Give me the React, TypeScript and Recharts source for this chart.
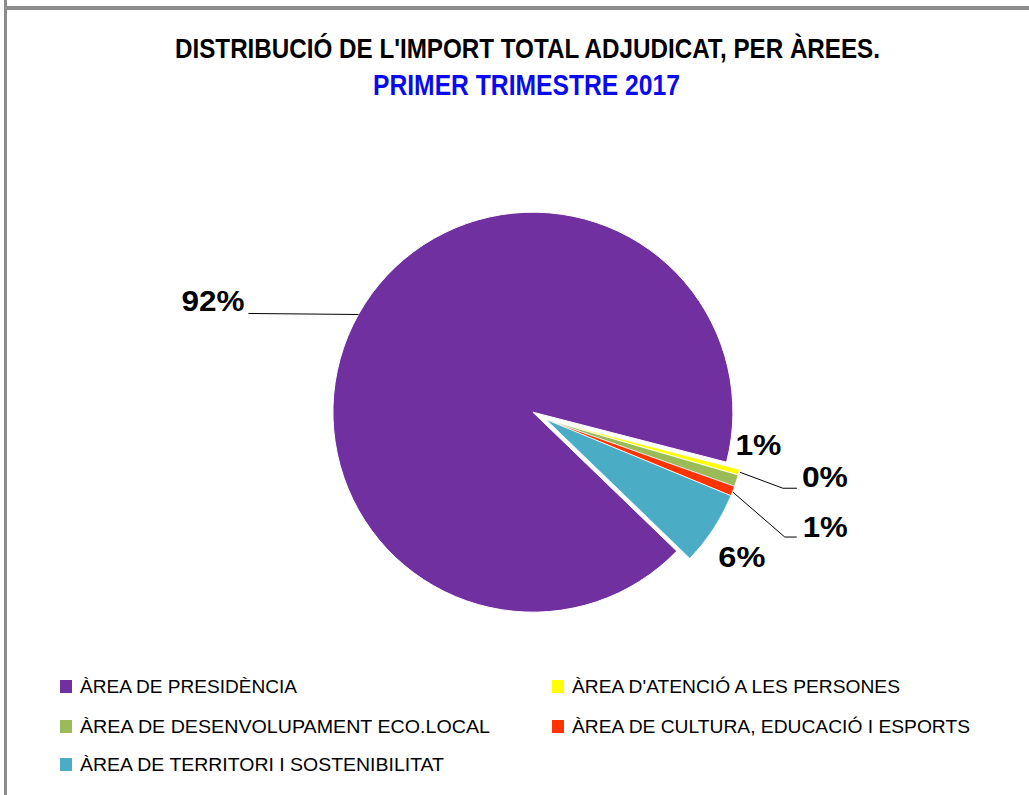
import React from 'react';
import { PieChart, Pie, Cell } from 'recharts';

const categories = [
  'ÀREA DE PRESIDÈNCIA',
  "ÀREA D'ATENCIÓ A LES PERSONES",
  'ÀREA DE DESENVOLUPAMENT ECO.LOCAL',
  'ÀREA DE CULTURA, EDUCACIÓ I ESPORTS',
  'ÀREA DE TERRITORI I SOSTENIBILITAT',
];
const values = [91.8, 0.45, 0.95, 0.8, 6.0];
const percentLabels = ['92%', '0%', '1%', '1%', '6%'];
const colors = ['#7030A0', '#FFFF00', '#9BBB59', '#FF3300', '#4BACC6'];

const title = "DISTRIBUCIÓ DE L'IMPORT TOTAL ADJUDICAT, PER ÀREES.";
const subtitle = 'PRIMER TRIMESTRE 2017';

const data = categories.map((name, i) => ({ name, value: values[i] }));

const W = 1029;
const H = 795;
const MARGIN = { top: 0, right: 0, bottom: 0, left: 0 };
const CX = 546;
const CY = 419.5;
const R = 200;
const START = -44;
const END = -404;
const EXPLODE_INDEX = 0;
const EXPLODE = 15;

// label layout (style offsets relative to each slice's outer edge point)
const labelLayout: Array<{ leader?: number[][]; text: number[]; anchor: 'start' | 'end'; width: number }> = [
  { leader: [[0, 0], [-110, -1]], text: [-114, -3], anchor: 'end', width: 63 },
  { leader: [[1, 0], [44, 16], [58, 16]], text: [63, 15], anchor: 'start', width: 46 },
  { text: [-1, -26], anchor: 'start', width: 46 },
  { leader: [[0, 1], [52, 46], [64, 46]], text: [70, 46], anchor: 'start', width: 45 },
  { text: [5, 38], anchor: 'start', width: 47 },
];

const total = values.reduce((a, b) => a + b, 0);
const cumBefore = values.slice(0, EXPLODE_INDEX).reduce((a, b) => a + b, 0);
const explodeMid = START - ((cumBefore + values[EXPLODE_INDEX] / 2) / total) * (START - END);
const RAD = Math.PI / 180;
const exDx = EXPLODE * Math.cos(explodeMid * RAD);
const exDy = -EXPLODE * Math.sin(explodeMid * RAD);

const FONT = "'Liberation Sans', Arial, sans-serif";

const makeLabel = (showExploded: boolean) => (props: any) => {
  const { cx, cy, midAngle, outerRadius, index } = props;
  if ((index === EXPLODE_INDEX) !== showExploded) return <g key={`lbl-${index}`} />;
  const ex = cx + outerRadius * Math.cos(-midAngle * RAD);
  const ey = cy + outerRadius * Math.sin(-midAngle * RAD);
  const lay = labelLayout[index];
  const pts = lay.leader ? lay.leader.map(([dx, dy]) => `${ex + dx},${ey + dy}`).join(' ') : null;
  return (
    <g key={`lbl-${index}`}>
      {pts && <polyline points={pts} fill="none" stroke="#000" strokeWidth={1} />}
      <text
        x={ex + lay.text[0]}
        y={ey + lay.text[1]}
        textAnchor={lay.anchor}
        fontFamily={FONT}
        fontWeight="bold"
        fontSize={30}
        fill="#000"
        textLength={lay.width}
        lengthAdjust="spacingAndGlyphs"
      >
        {percentLabels[index]}
      </text>
    </g>
  );
};

const legendPos = [
  { x: 60, y: 680, w: 217 },
  { x: 552, y: 680, w: 328 },
  { x: 60, y: 720, w: 410 },
  { x: 552, y: 720, w: 398 },
  { x: 60, y: 758, w: 364 },
];

export default function App() {
  return (
    <div style={{ position: 'absolute', left: 0, top: 0, width: W, height: H, background: '#fff' }}>
      <PieChart width={W} height={H} margin={MARGIN} style={{ position: 'absolute', left: 0, top: 0 }}>
        <Pie
          data={data}
          dataKey="value"
          nameKey="name"
          cx={CX}
          cy={CY}
          outerRadius={R}
          startAngle={START}
          endAngle={END}
          stroke="#fff"
          strokeWidth={0.75}
          label={makeLabel(false)}
          labelLine={false}
          isAnimationActive={false}
        >
          {data.map((d, i) => (
            <Cell
              key={`c-${i}`}
              fill={i === EXPLODE_INDEX ? 'transparent' : colors[i]}
              stroke={i === EXPLODE_INDEX ? 'none' : '#fff'}
            />
          ))}
        </Pie>
        <Pie
          data={data}
          dataKey="value"
          nameKey="name"
          cx={CX + exDx}
          cy={CY + exDy}
          outerRadius={R}
          startAngle={START}
          endAngle={END}
          label={makeLabel(true)}
          labelLine={false}
          isAnimationActive={false}
        >
          {data.map((d, i) => (
            <Cell
              key={`e-${i}`}
              fill={i === EXPLODE_INDEX ? colors[i] : 'transparent'}
              stroke={i === EXPLODE_INDEX ? '#fff' : 'none'}
            />
          ))}
        </Pie>
      </PieChart>
      <svg
        width={W}
        height={H}
        style={{ position: 'absolute', left: 0, top: 0, pointerEvents: 'none' }}
      >
        <rect x={4} y={6} width={W - 4} height={4} fill="#8c8c8c" />
        <rect x={4} y={0} width={3} height={H} fill="#8c8c8c" />
        <text
          x={175}
          y={58}
          fontFamily={FONT}
          fontWeight="bold"
          fontSize={28}
          fill="#000"
          textLength={705}
          lengthAdjust="spacingAndGlyphs"
        >
          {title}
        </text>
        <text
          x={373}
          y={95}
          fontFamily={FONT}
          fontWeight="bold"
          fontSize={29}
          fill="#0A0AF0"
          textLength={307}
          lengthAdjust="spacingAndGlyphs"
        >
          {subtitle}
        </text>
        {categories.map((c, i) => (
          <g key={`lg-${i}`}>
            <rect x={legendPos[i].x} y={legendPos[i].y} width={12} height={13} fill={colors[i]} />
            <text
              x={legendPos[i].x + 20}
              y={legendPos[i].y + 13}
              fontFamily={FONT}
              fontSize={18}
              fill="#000"
              textLength={legendPos[i].w}
              lengthAdjust="spacingAndGlyphs"
            >
              {c}
            </text>
          </g>
        ))}
      </svg>
    </div>
  );
}
